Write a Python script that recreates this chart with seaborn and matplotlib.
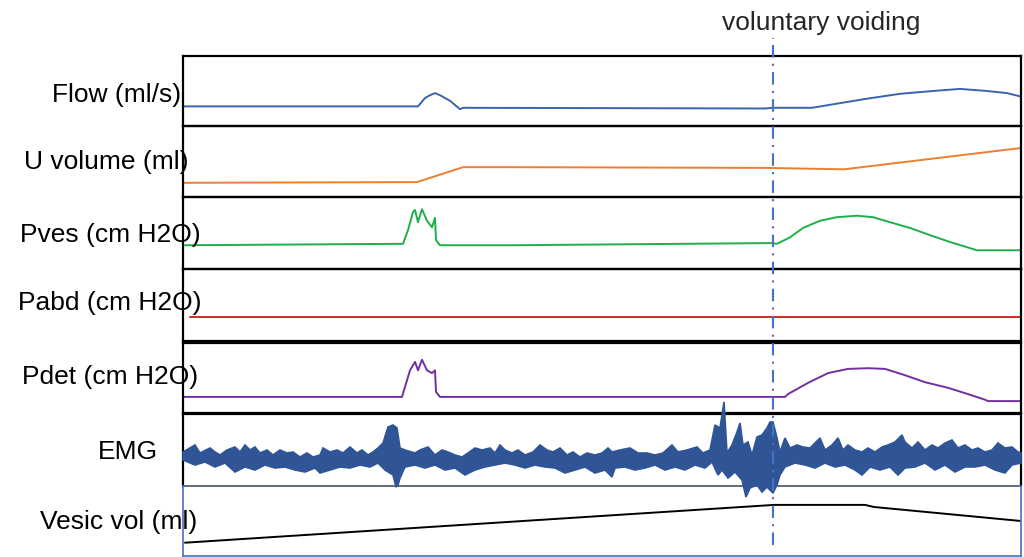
import numpy as np
import matplotlib.pyplot as plt
import seaborn as sns

# ── traces (time in s, values in panel units) ──
flow_t = [0, 235, 242, 247, 252, 257, 262, 267, 272, 277, 280, 582, 589, 629, 650,
          684, 717, 750, 777, 804, 824, 838]
flow_v = [2.8, 2.8, 4.0, 4.4, 4.7, 4.4, 4.0, 3.6, 3.0, 2.4, 2.6, 2.5, 2.6, 2.6, 3.1,
          3.9, 4.6, 5.0, 5.3, 5.0, 4.7, 4.2]

uvol_t = [0, 234, 280, 329, 582, 661, 838]
uvol_v = [2.0, 2.1, 4.2, 4.2, 4.1, 3.9, 6.9]

pves_t = [2, 220, 225, 230, 232, 235, 239, 244, 249, 252, 253, 257, 329, 589, 594,
          607, 620, 637, 654, 674, 690, 707, 727, 747, 767, 787, 794, 838]
pves_v = [3.3, 3.5, 5.4, 7.9, 8.2, 6.5, 8.3, 6.7, 5.8, 7.1, 4.0, 3.3, 3.3, 3.6, 3.5,
          4.4, 5.7, 6.7, 7.2, 7.4, 7.2, 6.5, 5.7, 4.7, 3.75, 2.9, 2.6, 2.6]

pabd_t = [7, 300, 590, 838]
pabd_v = [3.3, 3.3, 3.3, 3.3]

pdet_t = [0, 219, 227, 232, 235, 239, 244, 249, 252, 253, 257, 602, 605, 625, 645,
          665, 685, 702, 722, 742, 765, 785, 802, 805, 838]
pdet_v = [2.3, 2.3, 6.1, 7.3, 6.1, 7.6, 6.1, 5.7, 6.1, 3.0, 2.3, 2.3, 2.7, 4.3, 5.7,
          6.3, 6.4, 6.3, 5.4, 4.4, 3.6, 2.7, 1.9, 1.7, 1.7]

vesic_t = [2, 329, 591, 682, 691, 838]
vesic_v = [1.9, 4.9, 7.3, 7.3, 7.0, 5.0]

# EMG envelope (upper / lower edge around baseline)
emg_up_t = [0, 12, 17, 27, 32, 37, 44, 52, 57, 62, 67, 72, 77, 84, 90, 97, 104, 110,
            117, 124, 130, 137, 140, 147, 154, 160, 167, 174, 179, 185, 190, 195, 200,
            205, 210, 214, 217, 222, 232, 237, 245, 252, 259, 265, 272, 279, 285, 292,
            299, 307, 312, 317, 322, 329, 335, 342, 350, 357, 364, 370, 377, 384, 390,
            397, 404, 412, 419, 425, 429, 437, 447, 455, 464, 472, 480, 489, 495, 504,
            514, 520, 527, 532, 537, 541, 544, 549, 554, 557, 560, 565, 569, 574, 579,
            584, 587, 590, 594, 597, 602, 607, 614, 620, 627, 637, 642, 649, 655, 660,
            665, 672, 679, 685, 692, 699, 705, 712, 719, 722, 729, 735, 742, 749, 755,
            762, 769, 775, 782, 789, 795, 802, 809, 815, 822, 829, 835, 838]
emg_up = [6, 13, 5, 10, 6, 3, 8, 11, 6, 13, 8, 11, 5, 8, 3, 8, 5, 6,
          1, 5, 1, 3, 10, 6, 8, 5, 11, 5, 8, 3, 6, 10, 15,
          31, 33, 30, 10, 8, 5, 8, 11, 3, 8, 6, 3, 1, 5, 10,
          8, 10, 5, 13, 8, 5, 8, 3, 6, 13, 8, 6, 10, 3, 6,
          1, 5, 3, 5, 10, 6, 8, 10, 5, 5, 3, 5, 13, 6, 8,
          11, 5, 8, 33, 30, 56, 5, 13, 26, 35, 13, 16, 3, 21, 23,
          30, 36, 36, 20, 6, 20, 10, 13, 11, 10, 20, 8, 13, 20, 8,
          13, 8, 6, 10, 6, 11, 13, 16, 23, 16, 10, 16, 8, 13, 10,
          15, 18, 10, 13, 8, 10, 6, 8, 15, 10, 11, 6, 5]

emg_lo_t = [0, 12, 22, 32, 42, 52, 62, 72, 82, 92, 102, 112, 122, 132, 137, 147, 157,
            167, 177, 187, 195, 202, 210, 213, 215, 217, 222, 232, 242, 252, 262, 272,
            282, 292, 302, 312, 322, 332, 342, 352, 362, 372, 382, 392, 402, 412, 422,
            429, 432, 442, 452, 462, 472, 482, 492, 502, 512, 522, 529, 535, 539, 545,
            552, 559, 563, 567, 574, 579, 584, 590, 594, 597, 602, 612, 622, 632, 642,
            652, 662, 672, 679, 687, 697, 707, 715, 722, 732, 742, 752, 762, 772, 782,
            792, 802, 812, 822, 829, 838]
emg_lo = [-2, -7, -4, -9, -5, -14, -9, -12, -7, -10, -9, -12, -14, -10, -15, -12, -9,
          -10, -7, -9, -5, -12, -17, -29, -27, -20, -9, -7, -10, -7, -12, -10,
          -17, -12, -9, -7, -5, -7, -10, -7, -9, -10, -15, -12, -9, -15, -12,
          -19, -10, -9, -12, -10, -7, -12, -9, -12, -7, -10, -4, -17, -12, -20,
          -14, -22, -39, -30, -27, -34, -29, -35, -27, -17, -9, -5, -7, -10, -5,
          -9, -7, -12, -17, -9, -12, -9, -17, -10, -9, -5, -12, -7, -14, -9,
          -9, -7, -12, -15, -7, -5]

t_void = 590

labels = ["Flow (ml/s)", "U volume (ml)", "Pves (cm H2O)", "Pabd (cm H2O)",
          "Pdet (cm H2O)", "EMG", "Vesic vol (ml)"]
colors = ["#3A63AE", "#ED7D31", "#1FAF4B", "#D42A25", "#7030A0", "#2F5597", "black"]

sns.set_style("white")
plt.rcParams["font.family"] = ["Liberation Sans", "DejaVu Sans"]

W, H = 1024, 557
fig = plt.figure(figsize=(W / 100, H / 100), dpi=100)

# panel boxes in pixels (top, bottom), label right edge / centre
panel_px = [(56, 126), (126, 197), (197, 269), (269, 341), (343, 413), (414, 486), (486, 556)]
label_right = [181, 189, 201, 201, 198, 158, 197]
label_y = [95, 162, 235, 303, 377, 452, 522]
x0, x1 = 183, 1021

traces = [(flow_t, flow_v), (uvol_t, uvol_v), (pves_t, pves_v), (pabd_t, pabd_v),
          (pdet_t, pdet_v), None, (vesic_t, vesic_v)]

for i, (top, bot) in enumerate(panel_px):
    ax = fig.add_axes([x0 / W, 1 - bot / H, (x1 - x0) / W, (bot - top) / H])
    ax.set_facecolor("none")
    ax.set_xlim(0, 838)
    if traces[i] is None:
        ax.fill(emg_up_t + emg_lo_t[::-1], emg_up + emg_lo[::-1],
                color=colors[i], lw=1.2, clip_on=False, zorder=3)
        ax.set_ylim(-28, 44)
    else:
        t, v = traces[i]
        sns.lineplot(x=t, y=v, ax=ax, color=colors[i], lw=1.4, estimator=None, sort=False)
        ax.set_ylim(0, 10)
    ax.set_xticks([])
    ax.set_yticks([])
    ax.set_xlabel("")
    ax.set_ylabel("")
    for s in ax.spines.values():
        s.set_visible(True)
        s.set_color("black")
        s.set_linewidth(1.6)
    if i == 5:
        ax.spines["bottom"].set_color("#44546A")
        ax.spines["bottom"].set_linewidth(1.2)
    if i == 6:
        for side in ["left", "bottom", "right"]:
            ax.spines[side].set_color("#4472C4")
            ax.spines[side].set_linewidth(1.2)
        ax.spines["top"].set_visible(False)
    fig.text(label_right[i] / W, 1 - label_y[i] / H, labels[i], ha="right", va="center",
             fontsize=19, color="black", zorder=5)

# voiding marker over all panels
ov = fig.add_axes([x0 / W, 1 - 545 / H, (x1 - x0) / W, (545 - 38) / H])
ov.set_facecolor("none")
ov.set_xlim(0, 838)
ov.set_ylim(0, 1)
ov.axis("off")
ov.axvline(t_void, color="#4472C4", lw=1.5, linestyle=(0, (6, 3, 1, 3)))
fig.text(821 / W, 1 - 23 / H, "voluntary voiding", ha="center", va="center", fontsize=19)

fig.savefig("out.png", dpi=100)
